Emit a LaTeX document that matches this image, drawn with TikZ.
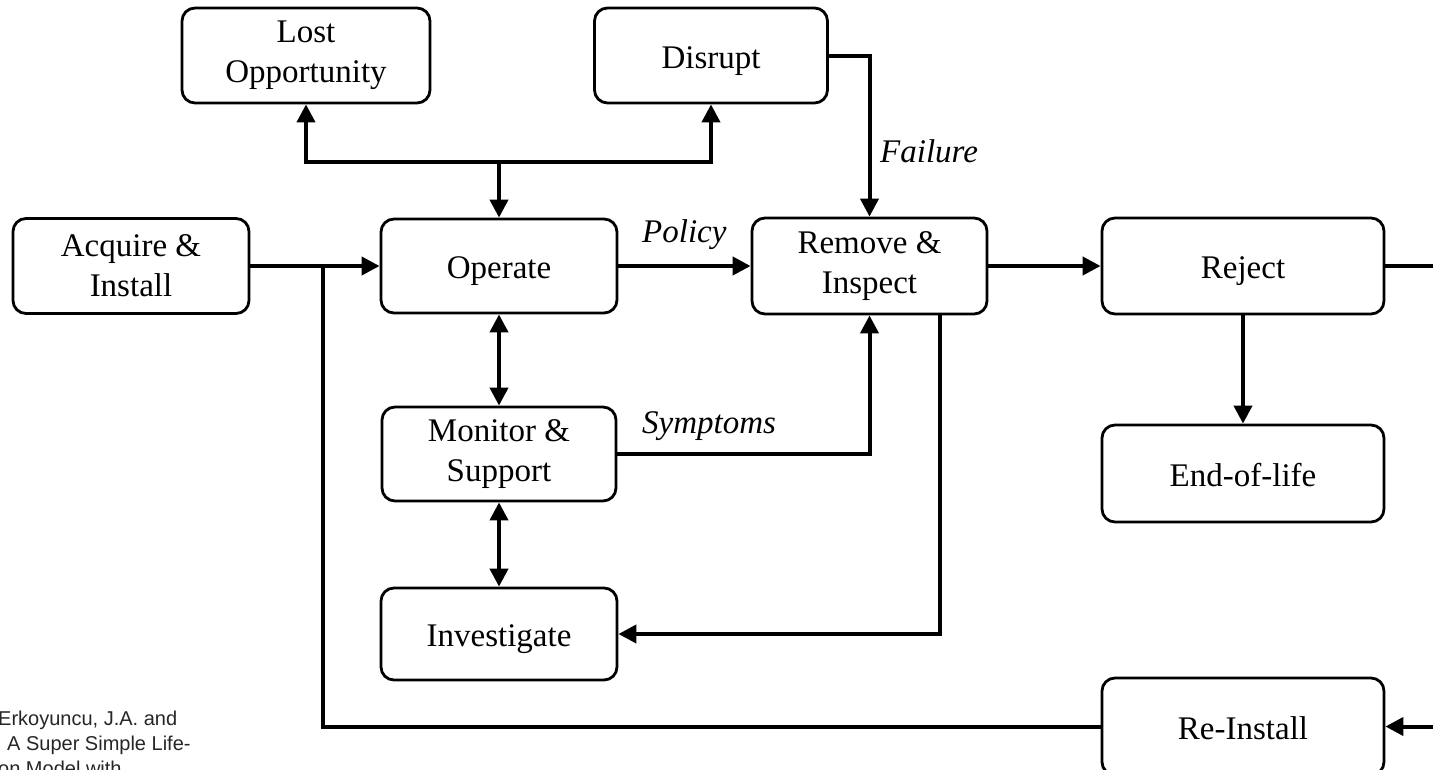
\documentclass[tikz,border=0pt]{standalone}
\usepackage{fontspec}
\setmainfont{Liberation Serif}
\newfontfamily\citefont{Liberation Sans}
\usetikzlibrary{arrows.meta,calc}
\tikzset{
  box/.style={draw=black, line width=2.8pt, rounded corners=13pt, inner sep=0pt,
    align=center, font=\fontsize{33}{40}\selectfont, fill=white},
  one/.style={text height=25pt, text depth=0pt},
  conn/.style={line width=4pt, -{Triangle[length=18pt,width=18pt]}},
  plain/.style={line width=4pt},
  twoway/.style={line width=4pt, {Triangle[length=18pt,width=18pt]}-{Triangle[length=18pt,width=18pt]}},
  lbl/.style={font=\fontsize{33}{40}\selectfont\itshape, inner sep=0pt, anchor=base west},
  cite/.style={font=\citefont\fontsize{20}{24}\selectfont, text=black!85, inner sep=0pt, anchor=base west}
}
\begin{document}
\begin{tikzpicture}[x=1pt,y=-1pt]
\useasboundingbox (0,0) rectangle (1433,769);
\clip (0,0) rectangle (1433,769);
% boxes
\node[box, minimum width=248pt, minimum height=95pt] (lost) at (306,55.5) {Lost\\Opportunity};
\node[box, one, minimum width=233pt, minimum height=95pt] (disrupt) at (711,55.5) {Disrupt};
\node[box, minimum width=236pt, minimum height=95pt] (acq) at (131,266) {Acquire \&\\Install};
\node[box, one, minimum width=236pt, minimum height=94pt] (op) at (499,266) {Operate};
\node[box, minimum width=235pt, minimum height=96pt] (rem) at (869.5,266) {Remove \&\\Inspect};
\node[box, one, minimum width=282pt, minimum height=96pt] (rej) at (1243,266) {Reject};
\node[box, minimum width=234pt, minimum height=94pt] (mon) at (499,454) {Monitor \&\\Support};
\node[box, one, minimum width=236pt, minimum height=92pt] (inv) at (499,634) {Investigate};
\node[box, one, minimum width=282pt, minimum height=97pt] (eol) at (1243,473.5) {End-of-life};
\node[box, one, minimum width=282pt, minimum height=97pt] (rei) at (1243,726.5) {Re-Install};
% helper coordinates
\coordinate (top) at (499,162);
\coordinate (junc) at (323,266);
\coordinate (rejout) at (1445,266);
\coordinate (reiin) at (1445,726.5);
\coordinate (remout) at ($(rem.south)+(70.5,0)$);
% connectors
\draw[conn] (top) -- (op.north);
\draw[conn] (top) -| (lost.south);
\draw[conn] (top) -| (disrupt.south);
\draw[conn] (acq.east) -- (op.west);
\draw[plain] (rei.west) -| (junc);
\draw[conn] (op.east) -- (rem.west);
\draw[conn] (disrupt.east) -| (rem.north);
\draw[conn] (rem.east) -- (rej.west);
\draw[plain] (rej.east) -- (rejout);
\draw[conn] (rej.south) -- (eol.north);
\draw[conn] (reiin) -- (rei.east);
\draw[twoway] (op.south) -- (mon.north);
\draw[twoway] (mon.south) -- (inv.north);
\draw[conn] (mon.east) -| (rem.south);
\draw[conn] (remout) |- (inv.east);
% labels
\node[lbl] (policy) at (642,242) {Policy};
\node[lbl] (failure) at (880,162) {Failure};
\node[lbl] (symptoms) at (642,433) {Symptoms};
% citation fragment
\node[cite] (c1) at (-2,725) {Erkoyuncu, J.A. and};
\node[cite] (c2) at (7,750) {A Super Simple Life-};
\node[cite] (c3) at (-2,775) {on Model with};
\end{tikzpicture}
\end{document}
